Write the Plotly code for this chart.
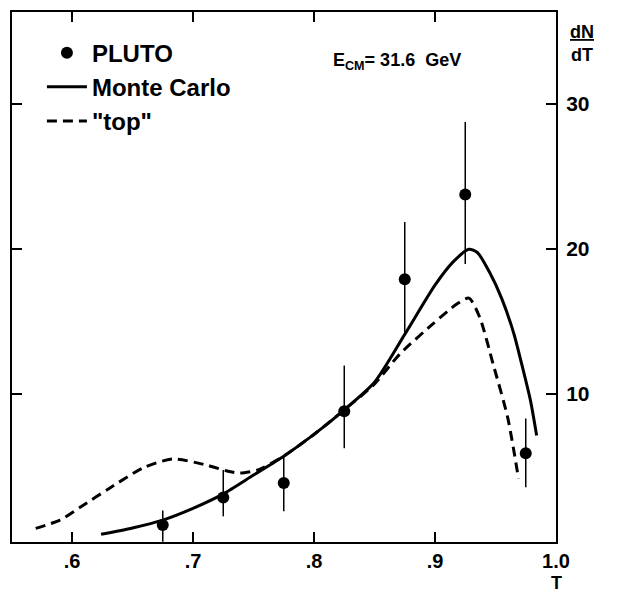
import plotly.graph_objects as go

# ---- data ----
pluto_T = [0.675, 0.725, 0.775, 0.825, 0.875, 0.925, 0.975]
pluto_y = [0.95, 2.85, 3.85, 8.8, 17.9, 23.75, 5.9]
pluto_err_plus = [1.0, 1.9, 1.85, 3.15, 3.95, 5.0, 2.4]
pluto_err_minus = [1.15, 1.3, 1.95, 2.55, 3.65, 4.8, 2.35]

mc_T = [0.624, 0.650, 0.675, 0.700, 0.725, 0.750, 0.775, 0.800, 0.825, 0.850,
        0.875, 0.900, 0.915, 0.928, 0.935, 0.945, 0.955, 0.965, 0.973, 0.979, 0.984]
mc_y = [0.31, 0.75, 1.29, 2.1, 3.1, 4.4, 5.7, 7.2, 8.9, 10.8,
        14.1, 17.5, 19.1, 19.97, 19.75, 18.4, 16.6, 14.2, 11.6, 9.5, 7.13]

top_T = [0.570, 0.590, 0.607, 0.631, 0.659, 0.683, 0.712, 0.728, 0.739, 0.753,
         0.758, 0.776, 0.800, 0.825, 0.849, 0.871, 0.898, 0.918, 0.928, 0.937,
         0.948, 0.960, 0.969]
top_y = [0.72, 1.29, 2.19, 3.49, 4.9, 5.5, 5.07, 4.68, 4.54, 4.73,
         4.91, 5.76, 7.2, 8.9, 10.6, 12.75, 14.81, 16.19, 16.6, 15.27,
         12.06, 8.39, 4.16]

x_tickvals = [0.6, 0.7, 0.8, 0.9, 1.0]
x_ticktext = [".6", ".7", ".8", ".9", "1.0"]
y_tickvals = [10, 20, 30]
y_ticktext = ["10", "20", "30"]

FONT = "Liberation Sans, Arial, sans-serif"

fig = go.Figure()
fig.add_trace(go.Scatter(
    x=pluto_T, y=pluto_y, mode="markers", name="PLUTO",
    marker=dict(color="black", size=12),
    error_y=dict(type="data", symmetric=False, array=pluto_err_plus,
                 arrayminus=pluto_err_minus, width=0, thickness=1.5, color="black"),
))
fig.add_trace(go.Scatter(
    x=mc_T, y=mc_y, mode="lines", name="Monte Carlo",
    line=dict(color="black", width=3, shape="spline", smoothing=0.7),
))
fig.add_trace(go.Scatter(
    x=top_T, y=top_y, mode="lines", name='"top"',
    line=dict(color="black", width=3, shape="spline", smoothing=0.7, dash="10px,6px"),
))

fig.update_layout(
    width=617, height=594,
    margin=dict(l=12, r=61, t=10, b=52),
    paper_bgcolor="white", plot_bgcolor="white",
    font=dict(family=FONT, color="black"),
    showlegend=True,
    legend=dict(x=0.055, y=0.965, xanchor="left", yanchor="top",
                bgcolor="rgba(0,0,0,0)", borderwidth=0,
                font=dict(size=24, family=FONT, color="black", weight="bold"),
                itemwidth=40, tracegroupgap=0),
    xaxis=dict(range=[0.5504, 1.0], showline=True, linecolor="black", linewidth=2,
               mirror="ticks", ticks="inside", ticklen=10, tickwidth=1.5,
               tickcolor="black", tickvals=x_tickvals, ticktext=x_ticktext,
               showgrid=False, zeroline=False,
               tickfont=dict(size=20, family=FONT, weight="bold")),
    yaxis=dict(range=[-0.22, 36.34], side="right", showline=True, linecolor="black",
               linewidth=2, mirror="ticks", ticks="inside", ticklen=10, tickwidth=1.5,
               tickcolor="black", tickvals=y_tickvals, ticktext=y_ticktext,
               showgrid=False, zeroline=False, ticklabelstandoff=4,
               tickfont=dict(size=21, family=FONT, weight="bold")),
    annotations=[
        dict(text="E<sub>CM</sub>= 31.6  GeV", x=0.8686, y=32.9, xref="x", yref="y",
             xanchor="center", yanchor="middle", showarrow=False,
             font=dict(size=18, family=FONT, weight="bold")),
        dict(text="<u>dN</u><br>dT", x=1.048, y=0.94, xref="paper", yref="paper",
             xanchor="center", yanchor="middle", showarrow=False,
             font=dict(size=18, family=FONT, weight="bold")),
        dict(text="T", x=1.0, y=-0.078, xref="x", yref="paper",
             xanchor="center", yanchor="middle", showarrow=False,
             font=dict(size=18, family=FONT, weight="bold")),
    ],
)

fig.write_html("out.html")
